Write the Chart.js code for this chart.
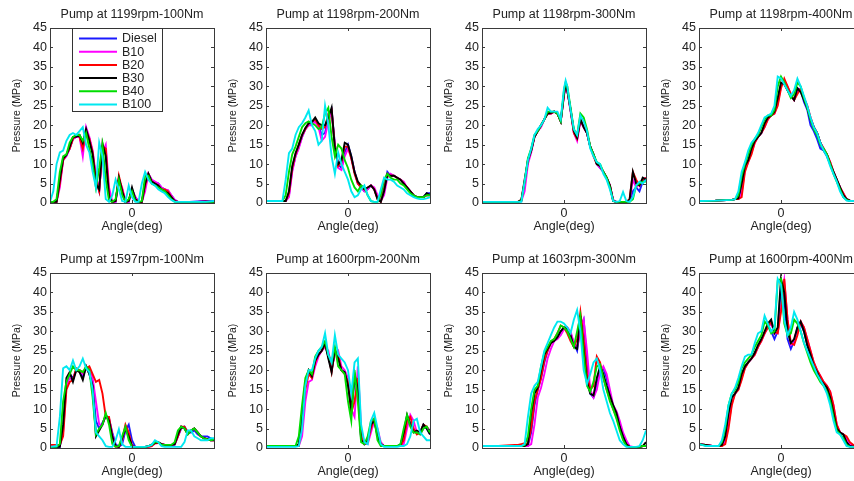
<!DOCTYPE html>
<html>
<head>
<meta charset="utf-8">
<script src="https://cdn.jsdelivr.net/npm/chart.js@4.4.1/dist/chart.umd.min.js"></script>
<style>
body { margin: 0; background: #fff; }
#page { position: relative; width: 854px; height: 481px; overflow: hidden; background: #fff; }
#page canvas { position: absolute; }
</style>
</head>
<body>
<div id="page"></div>
<script>
var fuels = ["Diesel", "B10", "B20", "B30", "B40", "B100"];
var fuelColors = ['#1a1aff', '#ff00ff', '#ff0000', '#000000', '#00dd00', '#00e8f0'];
var titles = ['Pump at 1199rpm-100Nm', 'Pump at 1198rpm-200Nm', 'Pump at 1198rpm-300Nm', 'Pump at 1198rpm-400Nm',
              'Pump at 1597rpm-100Nm', 'Pump at 1600rpm-200Nm', 'Pump at 1603rpm-300Nm', 'Pump at 1600rpm-400Nm'];
var xTicks = [0];

// panel 1 - 1199rpm 100Nm
var ang1 = [-50,-48,-46,-44,-42,-40,-38,-36,-34,-32,-30,-28,-26,-24,-22,-20,-18,-16,-14,-12,-10,-8,-6,-4,-2,0,2,4,6,8,10,12,14,16,18,20,22,24,26,28,30,35,40,45,50];
var p1Diesel = [0.3,0.3,0.3,5.5,11,12.3,14,16.5,17,17,14.5,18.5,16.5,13,6,3,14,13,2,0.3,0.3,6,3.5,0.3,0.3,3.5,1.5,0.3,0.3,4,7.5,6,5,5,4,3.5,3,2,0.8,0.3,0.3,0.3,0.4,0.5,0.5];
var p1B10 = [0.3,0.3,0.3,4,11,12,14,16.5,17,17,12,19.5,17,13.5,7,3.5,13,15,4,0.3,0.3,6,4,0.5,0.3,3.5,1.5,0.3,0.3,3,7.5,6,5.5,5,4,3.5,3.3,2,0.8,0.3,0.3,0.3,0.3,0.5,0.3];
var p1B20 = [0.3,0.3,0.3,5,11,12.5,14,16.5,17.5,17,14,18.5,16.5,13,6,3,14.5,14,2,0.3,0.5,7,3.5,0.3,0.5,3.5,1,0.3,0.3,4.5,7.5,5.5,5,4.5,3.5,3.5,3,1.5,0.5,0.3,0.3,0.3,0.3,0.3,0.3];
var p1B30 = [0.3,0.3,0.3,6,11.5,12.3,14.5,17,17,17.5,15.5,19,16,12.5,5,3.5,15.3,12,1.5,0.3,0.5,6.5,3,0.3,0.5,4,1,0.3,0.3,5,7.5,5.5,5,4.5,3.5,3,2.5,1.5,0.5,0.3,0.3,0.3,0.3,0.4,0.3];
var p1B40 = [0.3,0.3,1,8,12,12.5,15.5,17,17.5,17.5,16,18,14,10,4,9,15,6,0.5,0.3,1,6,2,0.3,1,3,0.5,0.3,0.5,7,7,5,4.5,4,3.5,3,2,1,0.3,0.3,0.3,0.3,0.3,0.3,0.3];
var p1B100 = [0.3,3,10,13,13.5,16,17.5,18,17.5,18.5,19.5,15,13,8,4,15.5,12,1,0.3,2,6,3.5,0.5,0.3,4.5,1.5,0.3,0.3,5,8,6,5,4.5,3.5,3,2.5,1.5,0.8,0.3,0.3,0.3,0.3,0.3,0.3,0.5];

// panel 2 - 1198rpm 200Nm
var ang2 = [-50,-45,-40,-38,-36,-34,-32,-30,-28,-26,-24,-22,-20,-18,-16,-14,-12,-10,-8,-6,-4,-2,0,2,4,6,8,10,12,14,16,18,20,22,24,26,28,30,32,34,36,38,40,42,44,46,48,50];
var p2Diesel = [0.5,0.5,0.5,0.5,2,8.5,12,14.5,17,19,20,20.5,21,20,17.5,18,22,24,15,10,9,13,15,12,8,5,4,3,3.5,4.5,3.5,1.5,0.5,4,8,7,7,6.5,6,5,4,3,2,1.5,1.5,1.5,2.5,2.5];
var p2B10 = [0.5,0.5,0.5,0.5,1.5,8,12,14,17,19,20,20,21,19.5,16,17,21,23.5,15,9,8.5,12,14,11.5,8,5,4,3,3.5,4.5,4,2,0.5,2,6.5,7.5,7,6.5,6,5.5,4,3,2,1.5,1.5,1.5,2,2];
var p2B20 = [0.5,0.5,0.5,0.5,2.5,9,12.5,15,17.5,19,20.5,21,21.5,20,19,19.5,23,24,14,9.5,10.5,14.5,14.5,11.5,7.5,5,4,3.5,4,4.5,3.5,1,0.3,3.5,7.5,7,7,6.5,6,5,4,3,2,1.5,1.5,1.5,2,2];
var p2B30 = [0.5,0.5,0.5,0.5,3,9.5,12.8,15,17.5,19.3,20.5,20.8,22,20.5,20,20,22,24.5,14,10,11,15.5,15,12,8,5.5,4.5,3.5,4,4.5,3.5,1,0.3,3,7.3,7,7,6.5,6,5,4,3,2,1.5,1.5,1.5,2.5,2];
var p2B40 = [0.5,0.5,0.5,2,8,12.5,14.5,17,19.5,20.5,21,20.5,20,19,19.5,23,24.5,17,12,15,14,11,9,6,4,3,4.5,4,2,0.5,0.3,0.3,2,6,7.5,6.5,6,6,5,4.5,3.5,2.5,2,1.5,1.5,1.5,2,2];
var p2B100 = [0.5,0.5,0.5,6,12.8,14,17.5,19.5,20.5,22,23.8,20,18.5,15,16,25,20,12,7.5,13,10,8,6,3,1.5,2,3.5,4.5,2,0.5,0.3,0.3,3.5,6.5,6,6,5.5,4.5,4,3.5,2.5,2,1.5,1.2,1,1,1.2,1.5];

// panel 3 - 1198rpm 300Nm
var ang3 = [-50,-40,-30,-28,-26,-24,-22,-20,-18,-16,-14,-12,-10,-8,-6,-4,-2,0,1,2,4,6,8,10,12,14,16,18,20,22,24,26,28,30,32,34,36,38,40,42,44,46,48,50];
var p3Diesel = [0.3,0.3,0.3,0.3,0.6,5,10.5,13.5,17,18.5,20,21.5,23,23,23.5,23,21,28,30.5,29,24,18.5,16.5,21.5,19.5,18,14.5,12.5,10,9,8,6.5,4.5,0.5,0.3,0.3,0.3,0.3,0.5,3,4,3,5.5,6.5];
var p3B10 = [0.3,0.3,0.3,0.3,0.5,3,10,13,17,18.5,19.5,21.5,23,23,23.5,23,21,27.5,30,29,23.5,18,16,21,19.5,18,14.5,12.5,10,9,8,6.5,4.5,0.8,0.3,0.3,0.3,0.3,0.5,6,4,5,6,6.5];
var p3B20 = [0.3,0.3,0.3,0.3,0.8,5.5,11,13.5,17,18.5,20,21.5,23,23,23.5,23,21,28,30.5,29,24,18,16.5,21.5,19.5,18,14.5,12,10,9.5,8,6.5,4.5,0.5,0.3,0.3,0.3,0.3,1,8,6,4.5,6,6.5];
var p3B30 = [0.3,0.3,0.3,0.3,0.8,6,11,13.5,17,18.5,20,21.5,23,23.2,23.5,23,21,28,30.5,29,24,18.5,16.8,21.5,19.5,18,14.5,12.5,10,9.5,8,6.5,4.5,0.5,0.3,0.3,0.3,0.3,0.8,8,5,4.5,6.5,6];
var p3B40 = [0.3,0.3,0.3,0.3,0.5,5.5,11.5,14,17.5,18.5,20,21.5,23.5,23.5,23.5,23,21,29,31,30,24.5,19,17.5,23,22,19,14.5,12.5,10.5,10,8,6.5,4,0.5,0.3,0.3,0.3,0.3,0.3,1,4.5,5,5.5,5.5];
var p3B100 = [0.3,0.3,0.3,0.3,0.3,5.5,11,14,17.5,19,20,21.5,24.5,23.5,23.5,23.5,21.5,29.5,31.5,30,24,19,17.5,22.5,21,18.5,14,12,10.5,10,7.5,6,3.5,0.5,0.3,0.5,2.8,0.5,0.3,1.5,4.5,5.5,5,6];

// panel 4 - 1198rpm 400Nm
var ang4 = [-50,-40,-30,-28,-26,-24,-22,-20,-18,-16,-14,-12,-10,-8,-6,-4,-2,0,2,4,6,8,10,12,14,16,18,20,22,24,26,28,30,32,34,36,38,40,42,45,50];
var p4Diesel = [0.5,0.6,0.8,1,1,4,9,11,13.5,16,17,18,20,22,22.5,23.5,26.5,30.5,31,29,27.5,26.5,29.5,29,26,24,20,18.5,16.5,14,13.5,12,10,8,6,4,2,1,0.6,0.5,0.5];
var p4B10 = [0.5,0.6,0.8,1,1,2.5,8.5,10.5,13,15.5,17,18,19.5,21.5,22.5,23,25.5,30,31.5,30,28,26.5,28.5,29.5,27,25,22,19.5,18,15.5,14,12.5,10.5,8,6,4,2.5,1,0.6,0.5,0.5];
var p4B20 = [0.5,0.6,0.8,1,1,1.5,8,10.5,12.5,15.5,17,18,19.5,21.5,22.5,23,25,29.5,32,30,28,26.5,28,29.5,27,25,22,19.5,18,15.5,14,12.5,10.5,8,6,4,2.5,1,0.6,0.5,0.5];
var p4B30 = [0.5,0.6,0.8,1,1.2,5,9.5,11,14,16,17,18,20.5,22,22.5,23.5,27,31,30.5,29,27.5,26.5,29.5,28.5,26.5,24.5,21.5,19.5,18,15.5,13.5,12.5,10,8,6,4,2,1,0.6,0.5,0.5];
var p4B40 = [0.5,0.6,0.8,1,2,7,10,12.5,15,16.5,17.5,19.5,21.5,22.5,22.5,24,30,32.5,31,29,27,28,31,30,27,24.5,21.5,19,17.5,15,14,12.5,10,7.5,5.5,3.5,1.5,0.8,0.5,0.5,0.5];
var p4B100 = [0.5,0.6,0.8,1,3,8,10.5,13.5,15.5,16.5,18,20,22,22.5,23,25,32.5,32,30.5,29,27.5,29,32,30,27.5,25,22,19.5,18,15.5,13.5,12,9.5,7.5,5.5,3,1.5,0.6,0.5,0.5,0.5];

// panel 5 - 1597rpm 100Nm
var ang5 = [-50,-46,-44,-42,-40,-38,-36,-34,-32,-30,-28,-26,-24,-22,-20,-18,-16,-14,-12,-10,-8,-6,-4,-2,0,2,4,6,8,10,12,14,16,18,20,22,24,26,28,30,32,34,36,38,40,42,44,46,48,50];
var p5Diesel = [0.3,0.3,0.3,6,17,19,18,20,20,18,21,19,16,7,5,6.5,8,7.5,4,1,0.3,1,4.5,6,2,0.3,0.3,0.3,0.3,0.5,0.8,1.3,1.5,1,0.8,0.8,0.8,0.8,3,5,5.5,4,4,4.5,3.5,3,3,3,2.5,2];
var p5B10 = [0.5,0.5,0.5,4,16,18,17.5,20,20,19,20.5,20.5,18,12,6,6,8.5,7.5,3.5,0.5,0.3,2,5.5,3.5,0.5,0.3,0.3,0.3,0.3,0.3,0.5,1.2,1.3,1,0.8,0.8,0.8,1,3,5.5,5,4,4.5,5,4,3,2.5,2.3,2,2];
var p5B20 = [0.8,0.8,0.8,3,15,17,17.5,20.5,20,19.5,20.5,21,19,17,17.5,14,8,8,3,0.3,0.3,2,6,4,0.5,0.3,0.3,0.3,0.3,0.3,0.5,1.2,1.3,1,0.8,0.8,0.8,1,3,5.5,5.5,4,4.5,5,4,3,2.5,2.3,2,2];
var p5B30 = [0.3,0.3,0.3,6,18,19.5,17,20,19.5,17.5,21,19,16,3,4.5,6,8.5,7,3,0.5,0.3,2.5,5,3,0.5,0.3,0.3,0.3,0.3,0.5,0.8,1.3,1.5,1,0.8,0.8,0.8,1,3.5,5.5,5,3.5,4.5,5,4,3,2.5,2.3,2,2];
var p5B40 = [0.3,0.3,1,12,17,19,21,20,20,19.5,21,20,13,3.5,5,6,9,6,1,0.3,0.5,3,5.5,2,0.3,0.3,0.3,0.3,0.3,0.5,0.8,1.5,1.5,0.8,0.8,0.8,0.8,1.5,4.5,5.5,5,3.5,4.5,5,4,3,2.5,2.2,2,2.2];
var p5B100 = [0.3,0.5,8,20.5,21,20,22.5,20,21,23,20.5,19.5,15,4,3,2,0.5,0.3,0.3,2,4.8,1,0.3,0.3,0.3,0.3,0.3,0.3,0.3,0.5,0.8,2,1.5,0.5,0.3,0.3,0.3,0.3,0.3,0.3,1.5,4.5,4.5,3,2.5,2,2,2,2.5,2.5];

// panel 6 - 1600rpm 200Nm
var ang6 = [-50,-40,-34,-32,-30,-28,-26,-24,-22,-20,-18,-16,-14,-12,-10,-8,-6,-4,-2,0,2,4,6,8,10,12,14,16,18,20,22,24,26,28,30,32,34,36,38,40,42,44,46,48,50];
var p6Diesel = [0.5,0.5,0.5,0.5,0.8,8,16.5,19.5,18.5,22,24,25,26.5,23.5,20,25,23.5,20,19.5,16.5,9.5,17,16,2.5,1,1.5,5.5,7,3.5,1,0.5,0.5,0.5,0.5,0.5,0.8,3.5,8,6.5,4.5,4,4,6,5,3.5];
var p6B10 = [0.5,0.5,0.5,0.5,0.5,3,12,17,17.5,21,23.5,25,26,25,20.5,24,25,21,20,18,10,8,21,5,1,1,4,7,5,1.5,0.5,0.5,0.5,0.5,0.5,0.5,1,5,8.5,7,4,3.5,5,5.5,4.5];
var p6B20 = [0.5,0.5,0.5,0.5,0.5,7,15,19,18,22,24,25,26.5,24,19.5,25,24,20,19,17,9,12,18,3,1,1.5,5,7.5,4,1,0.5,0.5,0.5,0.5,0.5,0.5,2,7,8,5,3.5,4,6,5.5,4];
var p6B30 = [0.5,0.5,0.5,0.5,1,9,17,20,18.5,22.5,24,25,27,23,19.5,25.5,23,20,19.5,16,10,19,15,2,1,2,6,7,3,1,0.5,0.5,0.5,0.5,0.5,0.8,4,8.5,6,4,4.5,4,6,5,3.5];
var p6B40 = [0.5,0.5,0.5,0.5,3,11,18,20,19,23.5,25,26,27.5,24,22,26,21,20,19,12,7,20,12,1.5,1,3,7,7.5,2,0.5,0.5,0.5,0.5,0.5,0.5,1,5,8.5,5.5,4,4,3.5,5,5.5,4];
var p6B100 = [0.3,0.3,0.3,0.3,0.5,5,16,20,20,23,25,26,29.5,24,22,29,24,23,22,20,14,22,23,6,1.5,1,7,9,5,1,0.3,0.3,0.3,0.3,0.3,0.5,0.5,1,3,7,7.5,4,3,2,2];

// panel 7 - 1603rpm 300Nm
var ang7 = [-50,-40,-30,-28,-26,-24,-22,-20,-18,-16,-14,-12,-10,-8,-6,-4,-2,0,2,4,6,8,10,12,14,16,18,20,22,24,26,28,30,32,34,36,38,40,42,44,46,48,50];
var p7Diesel = [0.5,0.5,0.5,0.5,0.5,0.5,0.5,4,11,15,18,22,25,27,28,28.5,30,31,31,29.5,27,25,31,33,22,14,13,16,20,20.5,18,14,10.5,9,6,3.5,1.5,0.3,0.3,0.3,0.3,0.5,0.5];
var p7B10 = [0.5,0.5,0.5,0.5,0.5,0.5,0.5,1,6,13,15.5,19,23,25.5,27.5,28,29,30.5,31,30,27,26,30,33,25,15,13,15,19.5,21,19,15,11,9.5,7,4,2,0.5,0.3,0.3,0.3,0.5,0.5];
var p7B20 = [0.5,0.5,0.8,0.8,1,1.2,1,5,12,15,18,22.5,25,27,28,29.5,31.5,31,29.5,27.5,26,28,35,28,19,15,16,23.5,22,18,15,12.5,10,8,5,2.5,1,0.3,0.3,0.3,0.3,0.5,0.5];
var p7B30 = [0.5,0.5,0.5,0.5,0.5,0.5,1,9,14,15.5,20,24,25.5,27,27.5,28.5,30,31,30.5,29,26,25.5,34,25,17,14,13.5,18,21,19,16,13.5,11,9,5.5,3,1,0.3,0.3,0.3,0.3,0.5,1.5];
var p7B40 = [0.5,0.5,0.5,0.5,0.5,0.8,3,10,15,16,21,24.5,26,27.5,28,29.5,31.5,31,30,28,26,30,34,24,16,14.5,17,21,21.5,18,15,12,10,7.5,4.5,2,0.5,0.3,0.3,0.3,0.3,0.5,0.5];
var p7B100 = [0.5,0.5,0.5,0.5,0.5,1,8,14,16,17,21,25,27,29,31,32.5,32.5,32,31,29.5,33,35.5,30,20,16.5,19,22,23,20,15,12,9,7,4.5,2,1,0.3,0.3,0.3,0.3,0.5,2,4.5];

// panel 8 - 1600rpm 400Nm
var ang8 = [-50,-46,-42,-38,-36,-34,-32,-30,-28,-26,-24,-22,-20,-18,-16,-14,-12,-10,-8,-6,-4,-2,0,2,4,6,8,10,12,14,16,18,20,22,24,26,28,30,32,34,36,38,40,42,45,50];
var p8Diesel = [1,0.8,0.5,0.5,0.8,2.5,8.5,13,14,15.5,18.5,21,22,23,24.5,26,28,29.5,31.5,30,28,30,42,38,28,25.5,27.5,31,32,30,26.5,24,21,19.5,17.5,16.5,15.5,13,9,5,4,3.5,1.5,0.5,0.3,0.3];
var p8B10 = [1,0.8,0.5,0.5,0.5,1.5,6,11.5,14,15,18,20.5,22,23,24,26,27.5,29.5,31,32,29.5,29.5,36,43,33,26.5,27,29.5,32.5,31,28,25,22,20,18.5,17,16,14.5,11,6,4,3.5,2.5,1,0.5,0.3];
var p8B20 = [1,0.8,0.5,0.5,0.5,1,5,11,14,15,17.5,20.5,22,23,24,26,27.5,29.5,31,32.5,30,29.5,35,43.5,33,27,26.5,29,32.5,31,28,25,22,20,18.5,17,16,14.5,11,6,4,3.5,3,1.5,0.5,0.3];
var p8B30 = [1,0.8,0.5,0.5,0.8,3,9,13,14,15.5,19,21,22,23,24.5,26.5,28,30,32,33,29.5,31,43.5,40,30,27,28,31,32.5,30,26.5,24,21,19.5,17.5,16.5,15.5,13,9,5,4,3.5,1.5,0.5,0.3,0.3];
var p8B40 = [1,0.6,0.5,0.5,1.5,5,11,14,15,17,20.5,22,23,24,26,27.5,29,32.5,31.5,29.5,30,43,43.5,32,29,29.5,33,32,30,27,24.5,22,20,18.5,17,16,14.5,12,8,4.5,3.5,2.5,0.8,0.3,0.3,0.3];
var p8B100 = [1,0.5,0.5,0.5,2,6,11,14,15.5,18,21,23.5,24,24,27,29.5,30,34,32,30,31,43.5,42,33,29,31,35,33,30,27,25,23,21,19,17.5,16,14,11,7,4,3.5,2,0.5,0.3,0.3,0.3];

var panels = [
    { angle: ang1, series: [p1Diesel, p1B10, p1B20, p1B30, p1B40, p1B100] },
    { angle: ang2, series: [p2Diesel, p2B10, p2B20, p2B30, p2B40, p2B100] },
    { angle: ang3, series: [p3Diesel, p3B10, p3B20, p3B30, p3B40, p3B100] },
    { angle: ang4, series: [p4Diesel, p4B10, p4B20, p4B30, p4B40, p4B100] },
    { angle: ang5, series: [p5Diesel, p5B10, p5B20, p5B30, p5B40, p5B100] },
    { angle: ang6, series: [p6Diesel, p6B10, p6B20, p6B30, p6B40, p6B100] },
    { angle: ang7, series: [p7Diesel, p7B10, p7B20, p7B30, p7B40, p7B100] },
    { angle: ang8, series: [p8Diesel, p8B10, p8B20, p8B30, p8B40, p8B100] }
];

var colLeft = [0, 216, 432, 649];
var rowTop = [0, 245];
var fontFam = "'Liberation Sans', Arial, sans-serif";
var textColor = '#222';

// matlab style box with inward ticks
var framePlugin = {
    id: 'frame',
    afterDatasetsDraw: function(chart) {
        var a = chart.chartArea, ctx = chart.ctx;
        var xs = chart.scales.x, ys = chart.scales.y;
        ctx.save();
        ctx.strokeStyle = '#3a3a3a';
        ctx.lineWidth = 1;
        ctx.strokeRect(Math.round(a.left) + 0.5, Math.round(a.top) + 0.5, Math.round(a.right - a.left), Math.round(a.bottom - a.top));
        ctx.beginPath();
        ys.ticks.forEach(function(t) {
            var py = Math.round(ys.getPixelForValue(t.value)) + 0.5;
            ctx.moveTo(a.left, py); ctx.lineTo(a.left + 3, py);
            ctx.moveTo(a.right, py); ctx.lineTo(a.right - 3, py);
        });
        xs.ticks.forEach(function(t) {
            var px = Math.round(xs.getPixelForValue(t.value)) + 0.5;
            ctx.moveTo(px, a.top); ctx.lineTo(px, a.top + 3);
            ctx.moveTo(px, a.bottom); ctx.lineTo(px, a.bottom - 3);
        });
        ctx.stroke();
        ctx.restore();
    }
};

// legend box drawn inside the first panel
var boxLegend = {
    id: 'boxLegend',
    afterDraw: function(chart) {
        if (chart.options.plugins.boxLegend.show !== true) return;
        var ctx = chart.ctx;
        ctx.save();
        ctx.fillStyle = '#fff';
        ctx.fillRect(72.5, 28.5, 90, 83);
        ctx.strokeStyle = '#333';
        ctx.lineWidth = 1;
        ctx.strokeRect(72.5, 28.5, 90, 83);
        ctx.font = '12.5px ' + fontFam;
        ctx.textBaseline = 'middle';
        chart.data.datasets.forEach(function(ds, i) {
            var ry = 38.5 + i * 13.2;
            ctx.strokeStyle = ds.borderColor;
            ctx.lineWidth = 2;
            ctx.beginPath();
            ctx.moveTo(79, ry); ctx.lineTo(117, ry);
            ctx.stroke();
            ctx.fillStyle = textColor;
            ctx.fillText(ds.label, 122, ry + 0.5);
        });
        ctx.restore();
    }
};

var page = document.getElementById('page');

panels.forEach(function(p, k) {
    var cv = document.createElement('canvas');
    cv.width = 216;
    cv.height = 240;
    cv.style.left = colLeft[k % 4] + 'px';
    cv.style.top = rowTop[Math.floor(k / 4)] + 'px';
    page.appendChild(cv);

    var datasets = fuels.map(function(f, i) {
        return {
            label: f,
            data: p.angle.map(function(a, j) { return { x: a, y: p.series[i][j] }; }),
            borderColor: fuelColors[i],
            borderWidth: 1.9,
            pointRadius: 0,
            fill: false,
            tension: 0,
            order: 6 - i
        };
    });

    new Chart(cv, {
        type: 'line',
        data: { datasets: datasets },
        plugins: [framePlugin, boxLegend],
        options: {
            responsive: false,
            animation: false,
            events: [],
            layout: { padding: { left: 0, right: 2, top: 0, bottom: 0 } },
            plugins: {
                legend: { display: false },
                tooltip: { enabled: false },
                boxLegend: { show: k === 0 },
                title: {
                    display: true,
                    text: titles[k],
                    fullSize: false,
                    color: textColor,
                    font: { family: fontFam, size: 12.5, weight: 'normal' },
                    padding: { top: 7.5, bottom: 5.5 }
                }
            },
            scales: {
                x: {
                    type: 'linear',
                    min: -50,
                    max: 50,
                    afterBuildTicks: function(s) { s.ticks = xTicks.map(function(v) { return { value: v }; }); },
                    afterFit: function(s) { s.height = 37; },
                    grid: { display: false, drawTicks: false },
                    border: { display: false },
                    ticks: { color: textColor, font: { family: fontFam, size: 12.5 }, padding: 3, maxRotation: 0 },
                    title: { display: true, text: 'Angle(deg)', color: textColor,
                             font: { family: fontFam, size: 12.5 }, padding: { top: 0, bottom: 5.5 } }
                },
                y: {
                    min: 0,
                    max: 45,
                    afterFit: function(s) { s.width = 50; },
                    grid: { display: false, drawTicks: false },
                    border: { display: false },
                    ticks: { stepSize: 5, color: textColor, font: { family: fontFam, size: 12.5 }, padding: 3 },
                    title: { display: true, text: 'Pressure (MPa)', color: textColor,
                             font: { family: fontFam, size: 10.5 }, padding: { top: 10.7, bottom: 0 } }
                }
            }
        }
    });
});
</script>
</body>
</html>
